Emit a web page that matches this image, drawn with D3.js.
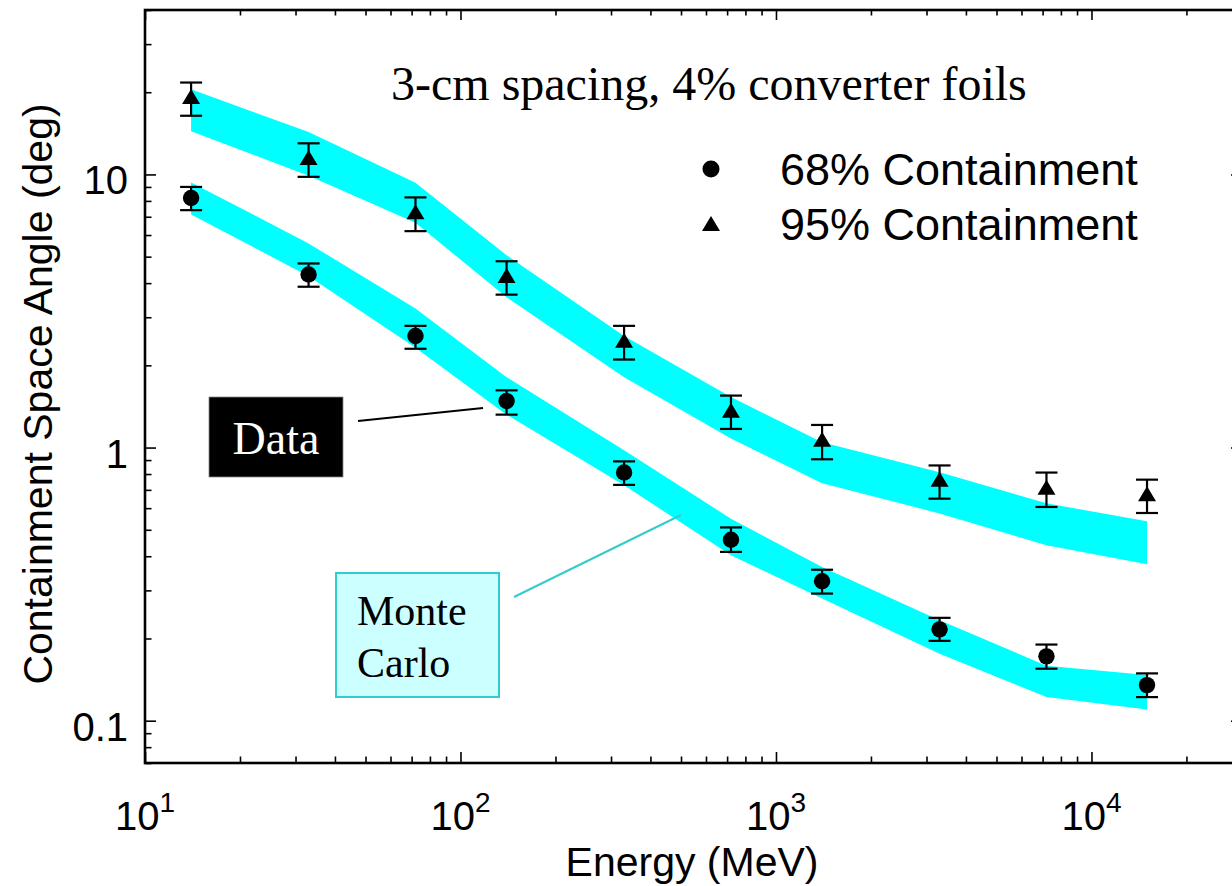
<!DOCTYPE html>
<html>
<head>
<meta charset="utf-8">
<script src="https://cdn.jsdelivr.net/npm/d3@7.9.0/dist/d3.min.js"></script>
<style>
  body { margin: 0; background: #fff; }
  svg { display: block; }
  .axis path, .axis line { stroke: #000; }
</style>
</head>
<body>
<svg id="chart" width="1232" height="886"></svg>
<script>
// energies (MeV) of the measured points
const energy = [14, 33, 72, 140, 330, 720, 1400, 3300, 7200, 15000];

// data: 68% containment with error bars
const c68   = [8.2, 4.3, 2.56, 1.48, 0.81, 0.46, 0.324, 0.216, 0.172, 0.135];
const c68Hi = [9.0, 4.72, 2.79, 1.62, 0.89, 0.51, 0.357, 0.238, 0.19, 0.149];
const c68Lo = [7.4, 3.88, 2.3, 1.32, 0.73, 0.415, 0.292, 0.196, 0.155, 0.122];

// data: 95% containment with error bars
const c95   = [18.9, 11.3, 7.15, 4.18, 2.42, 1.34, 1.05, 0.75, 0.70, 0.663];
const c95Hi = [21.7, 13.0, 8.24, 4.81, 2.79, 1.55, 1.21, 0.86, 0.81, 0.763];
const c95Lo = [16.4, 9.8, 6.2, 3.63, 2.1, 1.17, 0.906, 0.65, 0.606, 0.576];

// monte carlo bands
const mc68Hi = [9.35, 5.59, 3.23, 1.81, 0.977, 0.549, 0.365, 0.233, 0.159, 0.147];
const mc68Lo = [7.14, 4.24, 2.32, 1.32, 0.728, 0.403, 0.28, 0.176, 0.122, 0.11];
const mc95Hi = [20.5, 14.3, 9.32, 5.06, 2.56, 1.53, 1.046, 0.812, 0.625, 0.537];
const mc95Lo = [14.4, 9.9, 6.65, 3.55, 1.81, 1.08, 0.74, 0.574, 0.439, 0.374];

const xMajor = [10, 100, 1000, 10000];
const yMajor = [0.1, 1, 10];
const yLabels = ['0.1', '1', '10'];

const svg = d3.select('#chart');

let x = d3.scaleLog().domain([10, 30000]).range([145, 1242]);
let y = d3.scaleLog().domain([0.07, 40]).range([763, 10]);

// minor tick values 2..9 of each decade
let xMinor = [];
[10, 100, 1000, 10000].forEach((d) => {
    for (let k = 2; k <= 9; k++) if (d * k <= 30000) xMinor.push(d * k);
});
let yMinor = [];
[0.01, 0.1, 1, 10].forEach((d) => {
    for (let k = 2; k <= 9; k++) {
        let v = +(d * k).toPrecision(3);
        if (v >= 0.07 && v <= 40) yMinor.push(v);
    }
});

// monte carlo bands
let band = (lo, hi) => d3.area()
    .x((d, i) => x(energy[i]))
    .y0((d, i) => y(lo[i]))
    .y1((d, i) => y(hi[i]));

svg.append('path').attr('d', band(mc95Lo, mc95Hi)(energy)).attr('fill', '#00ffff');
svg.append('path').attr('d', band(mc68Lo, mc68Hi)(energy)).attr('fill', '#00ffff');

// axes: inward ticks on all four sides
const W = 1242, T = 10, B = 763, L = 145;

function addAxis(axisFn, scale, values, size, tr) {
    svg.append('g')
        .attr('class', 'axis')
        .attr('transform', tr)
        .call(axisFn(scale).tickValues(values).tickSize(size).tickFormat(''))
        .call((g) => g.select('.domain').remove())
        .selectAll('line').attr('stroke-width', 1.6);
}
addAxis(d3.axisBottom, x, xMajor, -11, `translate(0,${B})`);
addAxis(d3.axisBottom, x, xMinor, -6.5, `translate(0,${B})`);
addAxis(d3.axisTop, x, xMajor, -10, `translate(0,${T})`);
addAxis(d3.axisTop, x, xMinor, -5.5, `translate(0,${T})`);
addAxis(d3.axisLeft, y, yMajor, -11, `translate(${L},0)`);
addAxis(d3.axisLeft, y, yMinor, -6.5, `translate(${L},0)`);
addAxis(d3.axisRight, y, yMajor, -11, `translate(${W},0)`);
addAxis(d3.axisRight, y, yMinor, -6.5, `translate(${W},0)`);

svg.append('rect')
    .attr('x', L).attr('y', T)
    .attr('width', W - L).attr('height', B - T)
    .attr('fill', 'none').attr('stroke', '#000').attr('stroke-width', 2.6);

// tick labels
const sans = 'Arial, "Liberation Sans", Helvetica, sans-serif';
const serif = '"Times New Roman", "Liberation Serif", Times, serif';

yMajor.forEach((v, i) => {
    svg.append('text')
        .attr('x', 128).attr('y', y(v) + 20)
        .attr('text-anchor', 'end')
        .attr('font-family', sans).attr('font-size', 40)
        .text(yLabels[i]);
});

xMajor.forEach((v) => {
    let t = svg.append('text')
        .attr('x', x(v)).attr('y', 830)
        .attr('text-anchor', 'middle')
        .attr('font-family', sans).attr('font-size', 40);
    t.append('tspan').text('10');
    t.append('tspan').attr('dy', -18).attr('font-size', 28).text(Math.round(Math.log10(v)));
});

// axis titles
svg.append('text')
    .attr('x', 692).attr('y', 876)
    .attr('text-anchor', 'middle')
    .attr('font-family', sans).attr('font-size', 41)
    .text('Energy (MeV)');

svg.append('text')
    .attr('transform', 'translate(52,394) rotate(-90)')
    .attr('text-anchor', 'middle')
    .attr('font-family', sans).attr('font-size', 41)
    .text('Containment Space Angle (deg)');

// error bars and markers
function errorBars(vals, lo, hi) {
    let g = svg.append('g').attr('stroke', '#000').attr('stroke-width', 2.2);
    energy.forEach((e, i) => {
        let cx = x(e);
        g.append('line').attr('x1', cx).attr('x2', cx).attr('y1', y(hi[i])).attr('y2', y(lo[i]));
        g.append('line').attr('x1', cx - 11).attr('x2', cx + 11).attr('y1', y(hi[i])).attr('y2', y(hi[i]));
        g.append('line').attr('x1', cx - 11).attr('x2', cx + 11).attr('y1', y(lo[i])).attr('y2', y(lo[i]));
    });
}
errorBars(c68, c68Lo, c68Hi);
errorBars(c95, c95Lo, c95Hi);

const tri = 'M0,-10L9,5L-9,5Z';

energy.forEach((e, i) => {
    svg.append('circle').attr('cx', x(e)).attr('cy', y(c68[i])).attr('r', 8.2).attr('fill', '#000');
    svg.append('path').attr('d', tri)
        .attr('transform', `translate(${x(e)},${y(c95[i])})`).attr('fill', '#000');
});

// title
svg.append('text')
    .attr('x', 391).attr('y', 100)
    .attr('font-family', serif).attr('font-size', 48)
    .text('3-cm spacing, 4% converter foils');

// legend
svg.append('circle').attr('cx', 711).attr('cy', 169).attr('r', 8.5).attr('fill', '#000');
svg.append('path').attr('d', tri).attr('transform', 'translate(711,226)').attr('fill', '#000');
svg.append('text').attr('x', 780).attr('y', 185)
    .attr('font-family', sans).attr('font-size', 45).text('68% Containment');
svg.append('text').attr('x', 780).attr('y', 240)
    .attr('font-family', sans).attr('font-size', 45).text('95% Containment');

// "Data" callout
svg.append('line')
    .attr('x1', 358).attr('y1', 421).attr('x2', 483).attr('y2', 408)
    .attr('stroke', '#000').attr('stroke-width', 2);
svg.append('rect')
    .attr('x', 209).attr('y', 397).attr('width', 134).attr('height', 80)
    .attr('fill', '#000').attr('stroke', '#888').attr('stroke-width', 0.8);
svg.append('text')
    .attr('x', 276).attr('y', 454)
    .attr('text-anchor', 'middle')
    .attr('font-family', serif).attr('font-size', 46).attr('fill', '#fff')
    .text('Data');

// "Monte Carlo" callout
svg.append('line')
    .attr('x1', 514).attr('y1', 597).attr('x2', 681).attr('y2', 515)
    .attr('stroke', '#33cccc').attr('stroke-width', 2);
svg.append('rect')
    .attr('x', 336).attr('y', 573).attr('width', 163).attr('height', 124)
    .attr('fill', '#ccffff').attr('stroke', '#33cccc').attr('stroke-width', 2);
svg.append('text')
    .attr('x', 357).attr('y', 625)
    .attr('font-family', serif).attr('font-size', 42)
    .text('Monte');
svg.append('text')
    .attr('x', 357).attr('y', 677)
    .attr('font-family', serif).attr('font-size', 42)
    .text('Carlo');
</script>
</body>
</html>
